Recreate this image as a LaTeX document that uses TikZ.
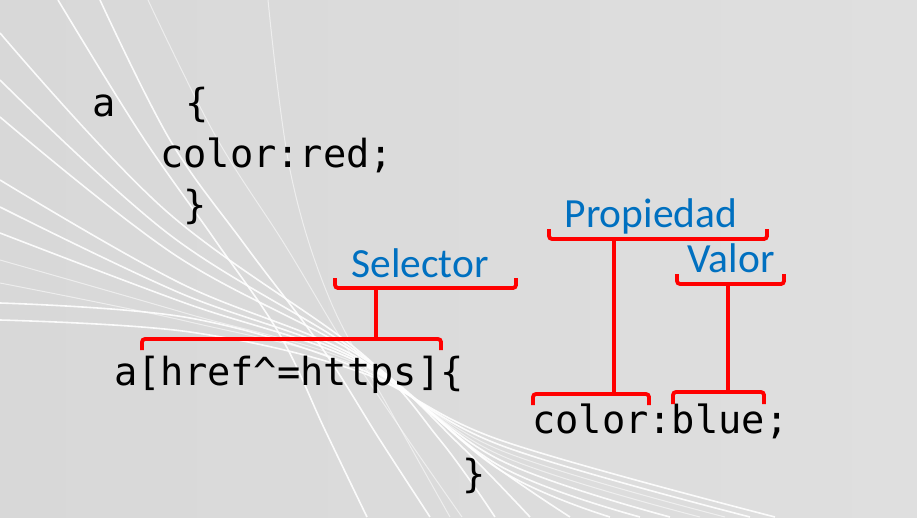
\documentclass[tikz,border=0pt]{standalone}
\usepackage{fontspec}
\setmonofont{DejaVu Sans Mono}
\newfontfamily\labelfont{Carlito}
\definecolor{tagblue}{HTML}{0070C0}
\definecolor{bred}{HTML}{FF0000}
\definecolor{bgleft}{HTML}{D8D8D8}
\definecolor{bgright}{HTML}{DFDFDF}
\begin{document}
\begin{tikzpicture}[x=1pt,y=-1pt,
  code/.style={font=\ttfamily\fontsize{38.7}{41}\selectfont, text=black, inner sep=0pt, anchor=base west},
  tag/.style={font=\labelfont\fontsize{41.5}{44}\selectfont, text=tagblue, inner sep=0pt, anchor=base},
  brk/.style={draw=bred, line width=3.8pt, rounded corners=3pt},
  stem/.style={draw=bred, line width=3.8pt},
  swirl/.style={draw=white, line width=1.6pt, opacity=0.9},
  faint/.style={draw=white, line width=1pt, opacity=0.55}]

\useasboundingbox (0,0) rectangle (917,517);
\shade[left color=bgleft, right color=bgright] (0,0) rectangle (917,517);

% decorative white swirl: strands gathered under the selector, then fanned out again
\begin{scope}
  \clip (0,0) rectangle (917,517);
  % strands entering from the top edge
  \draw[swirl] plot[smooth, tension=0.6] coordinates {(58,0) (140,133) (215,240) (280,335) (325,430) (367,517)};
  \draw[swirl] plot[smooth, tension=0.6] coordinates {(100,0) (170,140) (245,245) (320,345) (380,440) (430,517)};
  \draw[faint] plot[smooth, tension=0.6] coordinates {(148,0) (215,135) (285,245) (345,345) (405,435) (462,517)};
  \draw[faint] plot[smooth, tension=0.6] coordinates {(268,0) (290,170) (330,300) (390,410) (450,517)};
  % strands entering from the left edge
  \draw[swirl] plot[smooth, tension=0.6] coordinates {(0,33) (165,210) (360,352) (440,440) (495,517)};
  \draw[swirl] plot[smooth, tension=0.6] coordinates {(0,80) (170,235) (360,354) (460,445) (530,517)};
  \draw[swirl] plot[smooth, tension=0.6] coordinates {(0,117) (175,255) (360,356) (480,455) (570,517)};
  \draw[swirl] plot[smooth, tension=0.6] coordinates {(0,180) (180,283) (360,359) (500,470) (610,517)};
  \draw[swirl] plot[smooth, tension=0.6] coordinates {(0,207) (180,293) (360,361) (500,466) (640,517)};
  \draw[swirl] plot[smooth, tension=0.6] coordinates {(0,233) (185,303) (360,363) (500,460) (670,517)};
  \draw[faint] plot[smooth, tension=0.6] coordinates {(0,260) (185,313) (360,365) (500,455) (700,517)};
  \draw[faint] plot[smooth, tension=0.6] coordinates {(0,283) (190,322) (360,367) (500,450) (725,517)};
  \draw[swirl] plot[smooth, tension=0.6] coordinates {(0,303) (190,318) (360,369) (500,445) (750,517)};
  \draw[swirl] plot[smooth, tension=0.6] coordinates {(0,320) (190,332) (360,372) (500,440) (775,517)};
\end{scope}

% first rule
\node[code] (ruleA) at (92,116) {a~~~\{};
\node[code] (declA) at (160,167) {color:red;};
\node[code] (closeA) at (183,218) {\}};

% second rule
\node[code] (selector) at (114,385) {a[href\textasciicircum=https]\{};
\node[code] (decl) at (532,433) {color:blue;};
\node[code] (closeB) at (462,487) {\}};

% labels
\node[tag] (selLabel) at (420,277) {Selector};
\node[tag] (propLabel) at (651,227) {Propiedad};
\node[tag] (valLabel) at (731,272) {Valor};

% bracket midpoints
\coordinate (selTop) at (376,288);
\coordinate (selBot) at (376,339);
\coordinate (propTop) at (614,239);
\coordinate (propBot) at (614,394);
\coordinate (valTop) at (728,284);
\coordinate (valBot) at (728,392);

% brackets
\draw[brk] (335,278) -- (335,288) -- (516,288) -- (516,278);
\draw[brk] (142,350) -- (142,339) -- (441,339) -- (441,350);
\draw[brk] (549,229) -- (549,239) -- (767,239) -- (767,229);
\draw[brk] (533,405) -- (533,394) -- (649,394) -- (649,405);
\draw[brk] (677,274) -- (677,284) -- (784,284) -- (784,274);
\draw[brk] (673,404) -- (673,392) -- (764,392) -- (764,404);

% stems
\draw[stem] (selTop) -- (selBot);
\draw[stem] (propTop) -- (propBot);
\draw[stem] (valTop) -- (valBot);
\end{tikzpicture}
\end{document}
